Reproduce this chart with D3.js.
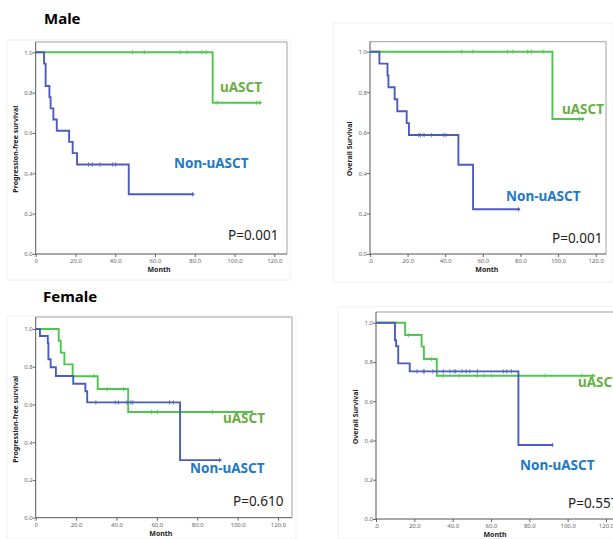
<!DOCTYPE html>
<html lang="en">
  <head>
    <meta charset="UTF-8" />
    <title>Survival by sex</title>
    <script src="https://d3js.org/d3.v7.min.js"></script>
    <style>
      body { margin: 0; background: #fff; }
      svg text { font-family: 'Noto Sans', 'Open Sans', sans-serif; }
    </style>
  </head>
  <body>
    <svg id="chart" width="613" height="539"></svg>
    <script>
      // axis ticks
      let yTicks = [0, 0.2, 0.4, 0.6, 0.8, 1.0]
      let xTicks = [0, 20, 40, 60, 80, 100, 120]

      // Kaplan-Meier steps: [month, survival after drop]
      // Male, progression-free
      let malePfsUasct = [[89, 0.75]]
      let malePfsUasctEnd = 113.6
      let malePfsUasctCens = [48.8, 54.6, 72.7, 76.1, 83.6, 85.8, 91.5, 111, 112.8]
      let malePfsNon = [[4.2, 0.944], [5.0, 0.833], [6.9, 0.778], [7.5, 0.722], [8.9, 0.667],
        [10.6, 0.611], [16.8, 0.556], [18.6, 0.5], [20.8, 0.444], [46.8, 0.296]]
      let malePfsNonEnd = 79.8
      let malePfsNonCens = [26.6, 28.5, 32.3, 38.7, 40.2, 78.9]

      // Male, overall
      let maleOsUasct = [[97, 0.667]]
      let maleOsUasctEnd = 113.8
      let maleOsUasctCens = [48.7, 54.8, 73, 75.9, 83.8, 85.8, 92, 111.3, 112.9]
      let maleOsNon = [[5.0, 0.941], [9.3, 0.882], [9.8, 0.824], [13.1, 0.765], [14.5, 0.706],
        [19.5, 0.647], [20.7, 0.588], [47, 0.441], [54.8, 0.221]]
      let maleOsNonEnd = 79.8
      let maleOsNonCens = [25.9, 26.9, 28.7, 32.8, 39.2, 40.4, 78.9]

      // Female, progression-free
      let femPfsUasct = [[11.4, 0.9375], [12.4, 0.875], [14.2, 0.8125], [18.3, 0.75],
        [30.7, 0.682], [45.8, 0.56]]
      let femPfsUasctEnd = 107.6
      let femPfsUasctCens = [28.8, 35.4, 43.5, 57.4, 60.3, 87.5, 107]
      let femPfsNon = [[2.1, 0.963], [6.0, 0.926], [6.3, 0.84], [7.4, 0.797], [10, 0.751],
        [18.6, 0.71], [24.6, 0.67], [25.5, 0.611], [71.5, 0.305]]
      let femPfsNonEnd = 92
      let femPfsNonCens = [29.8, 39.4, 41, 45.2, 47.1, 48.1, 66.3, 68.2, 91]

      // Female, overall
      let femOsUasct = [[15.2, 0.937], [23.8, 0.878], [25, 0.815], [31.7, 0.73]]
      let femOsUasctEnd = 114.3
      let femOsUasctCens = [16.9, 29, 35.1, 43.5, 52.7, 56.5, 60.3, 88.2, 107.3, 113]
      let femOsNon = [[9.9, 0.91], [10.5, 0.88], [11.6, 0.793], [17.6, 0.752], [74.3, 0.377]]
      let femOsNonEnd = 92.5
      let femOsNonCens = [21.4, 24.7, 25.2, 29.6, 35.1, 38.6, 40.7, 41.6, 44.9, 47, 48.9, 53,
        66.4, 68.2, 70.6, 92]

      let pValues = ['P=0.001', 'P=0.001', 'P=0.610', 'P=0.557']

      let green = '#4ec54e'
      let blue = '#4a5dbf'
      let greenText = '#6aad45'
      let blueText = '#2079c7'

      let svg = d3.select('#chart')

      // titles
      svg.append('text').attr('x', 44).attr('y', 24).text('Male')
        .style('font-size', '15px').style('font-weight', 'bold')
      svg.append('text').attr('x', 43).attr('y', 302).text('Female')
        .style('font-size', '15px').style('font-weight', 'bold')

      // the right column runs off the page edge, as in the source figure
      let panels = [
        { box: [7, 40, 290, 280], x0: 35.7, x1: 274.3, right: 287, top: 42, y1: 52.3, y0: 254,
          ylab: 'Progression-free survival', zero: '0',
          u: [malePfsUasct, malePfsUasctEnd, malePfsUasctCens],
          n: [malePfsNon, malePfsNonEnd, malePfsNonCens],
          uPos: [220, 92], nPos: [174, 168], pPos: [228, 240], p: pValues[0] },
        { box: [333, 23, 613, 282], x0: 370, x1: 595.7, right: 606, top: 41.7, y1: 51.7, y0: 254,
          ylab: 'Overall Survival', zero: '.0',
          u: [maleOsUasct, maleOsUasctEnd, maleOsUasctCens],
          n: [maleOsNon, maleOsNonEnd, maleOsNonCens],
          uPos: [562, 114], nPos: [506, 201], pPos: [552, 243], p: pValues[1] },
        { box: [7, 316, 296, 539], x0: 35.7, x1: 278, right: 292, top: 317, y1: 329, y0: 517.7,
          ylab: 'Progression-free survival', zero: '0',
          u: [femPfsUasct, femPfsUasctEnd, femPfsUasctCens],
          n: [femPfsNon, femPfsNonEnd, femPfsNonCens],
          uPos: [223, 423], nPos: [190, 473], pPos: [233, 506], p: pValues[2] },
        { box: [338, 306.7, 640, 539], x0: 376, x1: 606, right: 640, top: 312, y1: 322.7, y0: 519,
          ylab: 'Overall Survival', zero: '.0',
          u: [femOsUasct, femOsUasctEnd, femOsUasctCens],
          n: [femOsNon, femOsNonEnd, femOsNonCens],
          uPos: [578, 387], nPos: [520, 470], pPos: [568, 508], p: pValues[3] }
      ]

      panels.forEach(drawPanel)

      function stepPoints(events, end) {
        let pts = [[0, 1]]
        let s = 1
        events.forEach(e => {
          pts.push([e[0], s])
          s = e[1]
          pts.push([e[0], s])
        })
        pts.push([end, s])
        return pts
      }

      function survivalAt(events, t) {
        let s = 1
        events.forEach(e => { if (e[0] <= t) s = e[1] })
        return s
      }

      function drawPanel(p) {
        let x = d3.scaleLinear().domain([0, 120]).range([p.x0, p.x1])
        let y = d3.scaleLinear().domain([0, 1]).range([p.y0, p.y1])
        let g = svg.append('g')

        // faint outer panel
        g.append('rect')
          .attr('x', p.box[0]).attr('y', p.box[1])
          .attr('width', p.box[2] - p.box[0]).attr('height', p.box[3] - p.box[1])
          .attr('fill', 'none').attr('stroke', '#f2f2f2')

        // frame top + right
        g.append('path')
          .attr('d', `M${p.x0},${p.top}H${p.right}V${p.y0}`)
          .attr('fill', 'none').attr('stroke', '#a0a0a0').attr('stroke-width', 1)

        let yAxis = g.append('g')
          .attr('transform', `translate(${p.x0},0)`)
          .call(d3.axisLeft(y).tickValues(yTicks).tickSize(3).tickFormat(d3.format('.1f')))
        yAxis.select('.domain').remove()
        yAxis.append('line')
          .attr('y1', p.top).attr('y2', p.y0).attr('stroke', '#555')

        let xAxis = g.append('g')
          .attr('transform', `translate(0,${p.y0})`)
          .call(d3.axisBottom(x).tickValues(xTicks).tickSize(3)
            .tickFormat(d => d === 0 ? p.zero : d3.format('.1f')(d)))
        xAxis.select('.domain').remove()
        xAxis.append('line')
          .attr('x1', p.x0).attr('x2', p.right).attr('stroke', '#555')

        g.selectAll('.tick line').attr('stroke', '#666')
        g.selectAll('.tick text').attr('fill', '#666').style('font-size', '6px')
        yAxis.selectAll('.tick text').attr('x', -3)
        xAxis.selectAll('.tick text').attr('y', 5)

        // axis titles
        g.append('text')
          .attr('x', (p.x0 + p.x1) / 2 + 4).attr('y', p.y0 + 18)
          .attr('text-anchor', 'middle').text('Month')
          .style('font-size', '7px').style('font-weight', 'bold').attr('fill', '#222')
        g.append('text')
          .attr('transform', `translate(${p.x0 - 18},${(p.y0 + p.y1) / 2 - 4}) rotate(-90)`)
          .attr('text-anchor', 'middle').text(p.ylab)
          .style('font-size', '7px').style('font-weight', 'bold').attr('fill', '#222')

        let line = d3.line().x(d => x(d[0])).y(d => y(d[1]))

        let curves = [[p.u, green], [p.n, blue]]
        curves.forEach(c => {
          let events = c[0][0]
          g.append('path')
            .attr('d', line(stepPoints(events, c[0][1])))
            .attr('fill', 'none').attr('stroke', c[1]).attr('stroke-width', 1.9)
          g.selectAll(null)
            .data(c[0][2])
            .enter()
            .append('line')
            .attr('x1', d => x(d)).attr('x2', d => x(d))
            .attr('y1', d => y(survivalAt(events, d)) - 2.2)
            .attr('y2', d => y(survivalAt(events, d)) + 2.2)
            .attr('stroke', c[1]).attr('stroke-width', 0.8)
        })

        g.append('text').attr('x', p.uPos[0]).attr('y', p.uPos[1]).text('uASCT')
          .attr('fill', greenText).style('font-size', '13.5px').style('font-weight', 'bold')
        g.append('text').attr('x', p.nPos[0]).attr('y', p.nPos[1]).text('Non-uASCT')
          .attr('fill', blueText).style('font-size', '13.5px').style('font-weight', 'bold')
        g.append('text').attr('x', p.pPos[0]).attr('y', p.pPos[1]).text(p.p)
          .attr('fill', '#222').style('font-size', '13.5px')
      }
    </script>
  </body>
</html>
